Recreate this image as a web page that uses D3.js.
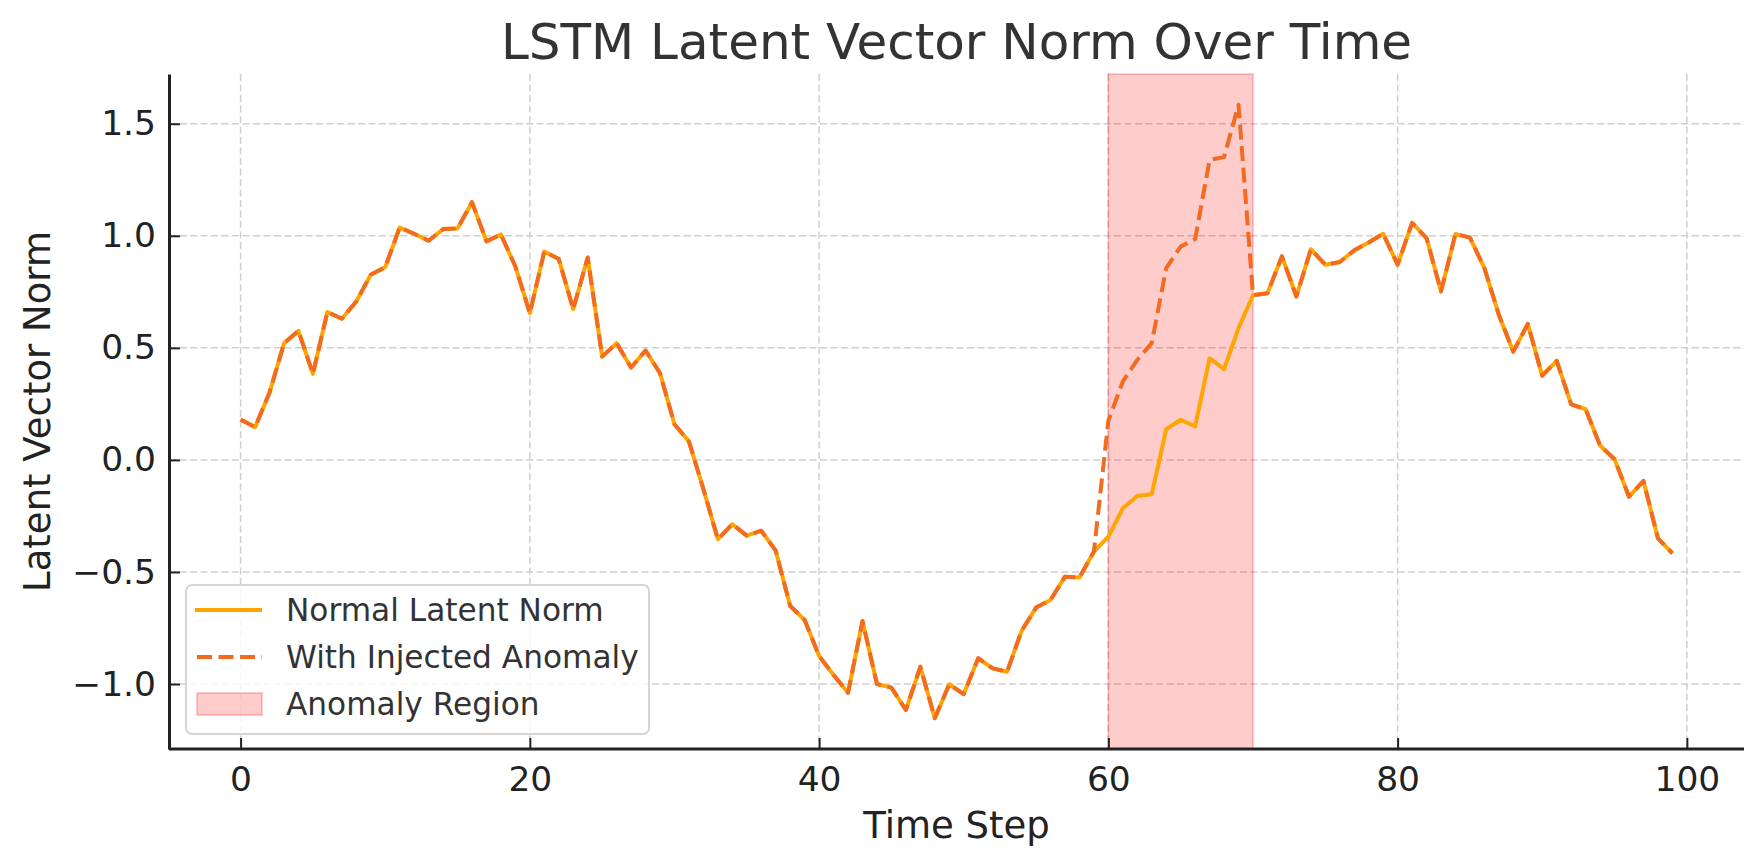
<!DOCTYPE html>
<html>
<head>
<meta charset="utf-8">
<script src="https://cdn.jsdelivr.net/npm/d3@7"></script>
<style>
  body { margin: 0; background: #fff; }
  svg { display: block; font-family: "DejaVu Sans", sans-serif; }
</style>
</head>
<body>
<div id="chart"></div>
<script>
// time steps 0..99
const steps = d3.range(0, 100);

// normal latent norm
const normalNorm = [
  0.18, 0.146, 0.30, 0.52, 0.576, 0.384, 0.66, 0.63, 0.707, 0.826,
  0.86, 1.037, 1.009, 0.978, 1.03, 1.033, 1.15, 0.975, 1.006, 0.863,
  0.655, 0.93, 0.896, 0.673, 0.903, 0.461, 0.521, 0.412, 0.488, 0.387,
  0.159, 0.082, -0.13, -0.354, -0.287, -0.338, -0.316, -0.405, -0.652, -0.714,
  -0.875, -0.96, -1.039, -0.719, -1.0, -1.016, -1.116, -0.923, -1.153, -1.001,
  -1.045, -0.885, -0.93, -0.945, -0.763, -0.659, -0.625, -0.521, -0.525, -0.409,
  -0.342, -0.216, -0.161, -0.153, 0.137, 0.179, 0.149, 0.454, 0.405, 0.588,
  0.735, 0.744, 0.908, 0.729, 0.94, 0.871, 0.883, 0.935, 0.97, 1.009,
  0.871, 1.058, 0.99, 0.752, 1.008, 0.992, 0.856, 0.647, 0.483, 0.607,
  0.376, 0.442, 0.248, 0.226, 0.064, 0.003, -0.164, -0.094, -0.35, -0.417
];

// values of the injected series inside the anomaly window
const anomalySteps = [60, 61, 62, 63, 64, 65, 66, 67, 68, 69];
const anomalyNorm = [0.175, 0.35, 0.446, 0.521, 0.856, 0.952, 0.985, 1.339, 1.351, 1.585];

const anomalyRegion = [60, 70];

const xTicks = [0, 20, 40, 60, 80, 100];
const yTicks = [-1.0, -0.5, 0.0, 0.5, 1.0, 1.5];

const legendLabels = ["Normal Latent Norm", "With Injected Anomaly", "Anomaly Region"];

// build the two series
const normalData = steps.map((s, i) => ({ t: s, v: normalNorm[i] }));
const injectedData = normalData.map(d => {
  const k = anomalySteps.indexOf(d.t);
  return { t: d.t, v: k >= 0 ? anomalyNorm[k] : d.v };
});

///////////////////////////// Create SVG
const W = 1764, H = 865;
const margin = { top: 74, right: 20, bottom: 116, left: 169 };
const width = W - margin.left - margin.right;
const height = H - margin.top - margin.bottom;

const svg = d3.select("#chart").append("svg")
  .attr("width", W)
  .attr("height", H);

const chart = svg.append("g")
  .attr("transform", "translate(" + margin.left + "," + margin.top + ")");

///////////////////////////// Scales (matplotlib-like 5% padding)
const xExt = d3.extent(steps);
const xPad = (xExt[1] - xExt[0]) * 0.05;
const x = d3.scaleLinear()
  .domain([xExt[0] - xPad, xExt[1] + xPad])
  .range([0, width]);

const allVals = normalNorm.concat(anomalyNorm);
const yExt = d3.extent(allVals);
const yPad = (yExt[1] - yExt[0]) * 0.05;
const y = d3.scaleLinear()
  .domain([yExt[0] - yPad, yExt[1] + yPad])
  .range([height, 0]);

///////////////////////////// Grid
chart.append("g")
  .selectAll("line")
  .data(xTicks)
  .join("line")
  .attr("x1", d => x(d)).attr("x2", d => x(d))
  .attr("y1", 0).attr("y2", height)
  .attr("stroke", "#cfcfcf")
  .attr("stroke-width", 1.5)
  .attr("stroke-dasharray", "7,3.5");

chart.append("g")
  .selectAll("line")
  .data(yTicks)
  .join("line")
  .attr("x1", 0).attr("x2", width)
  .attr("y1", d => y(d)).attr("y2", d => y(d))
  .attr("stroke", "#cfcfcf")
  .attr("stroke-width", 1.5)
  .attr("stroke-dasharray", "7,3.5");

///////////////////////////// Anomaly band
chart.append("rect")
  .attr("x", x(anomalyRegion[0]))
  .attr("y", 0)
  .attr("width", x(anomalyRegion[1]) - x(anomalyRegion[0]))
  .attr("height", height)
  .attr("fill", "rgba(255,0,0,0.2)")
  .attr("stroke", "rgba(255,0,0,0.2)")
  .attr("stroke-width", 2);

///////////////////////////// Lines
const line = d3.line()
  .x(d => x(d.t))
  .y(d => y(d.v));

chart.append("path")
  .datum(normalData)
  .attr("fill", "none")
  .attr("stroke", "#ffa500")
  .attr("stroke-width", 4)
  .attr("stroke-linejoin", "round")
  .attr("d", line);

chart.append("path")
  .datum(injectedData)
  .attr("fill", "none")
  .attr("stroke", "#f26b21")
  .attr("stroke-width", 4)
  .attr("stroke-dasharray", "15,6.5")
  .attr("stroke-linejoin", "round")
  .attr("d", line);

///////////////////////////// Axes
const xAxis = chart.append("g")
  .attr("transform", "translate(0," + height + ")")
  .call(d3.axisBottom(x).tickValues(xTicks).tickSizeInner(-11).tickSizeOuter(0).tickPadding(18));

const yAxis = chart.append("g")
  .call(d3.axisLeft(y).tickValues(yTicks).tickSizeInner(-11).tickSizeOuter(0).tickPadding(13)
    .tickFormat(d => d3.format(".1f")(d).replace("-", "\u2212")));

[xAxis, yAxis].forEach(ax => {
  ax.select(".domain").attr("stroke", "#222").attr("stroke-width", 3);
  ax.selectAll(".tick line").attr("stroke", "#222").attr("stroke-width", 2);
  ax.selectAll(".tick text")
    .attr("fill", "#222")
    .style("font-size", "34.5px")
    .style("font-family", "DejaVu Sans, sans-serif");
});
xAxis.select(".domain").attr("d", "M0,0H" + width);

///////////////////////////// Labels
svg.append("text")
  .attr("x", margin.left + width / 2)
  .attr("y", 59)
  .attr("text-anchor", "middle")
  .attr("fill", "#333")
  .style("font-size", "50px")
  .text("LSTM Latent Vector Norm Over Time");

svg.append("text")
  .attr("x", margin.left + width / 2)
  .attr("y", 838)
  .attr("text-anchor", "middle")
  .attr("fill", "#222")
  .style("font-size", "37px")
  .text("Time Step");

svg.append("text")
  .attr("transform", "translate(50," + (margin.top + height / 2) + ") rotate(-90)")
  .attr("text-anchor", "middle")
  .attr("fill", "#222")
  .style("font-size", "37px")
  .text("Latent Vector Norm");

///////////////////////////// Legend
const legend = svg.append("g");

legend.append("rect")
  .attr("x", 186).attr("y", 585)
  .attr("width", 463).attr("height", 149)
  .attr("rx", 6)
  .attr("fill", "rgba(255,255,255,0.8)")
  .attr("stroke", "#d6d6d6")
  .attr("stroke-width", 2);

const rowY = [610, 657, 704];

legend.append("line")
  .attr("x1", 195).attr("x2", 262)
  .attr("y1", rowY[0]).attr("y2", rowY[0])
  .attr("stroke", "#ffa500").attr("stroke-width", 4);

legend.append("line")
  .attr("x1", 197).attr("x2", 262)
  .attr("y1", rowY[1]).attr("y2", rowY[1])
  .attr("stroke", "#f26b21").attr("stroke-width", 4)
  .attr("stroke-dasharray", "15,6.5");

legend.append("rect")
  .attr("x", 197).attr("y", rowY[2] - 11)
  .attr("width", 65).attr("height", 22)
  .attr("fill", "rgba(255,0,0,0.2)")
  .attr("stroke", "rgba(255,0,0,0.2)")
  .attr("stroke-width", 2);

legend.selectAll("text.lbl")
  .data(legendLabels)
  .join("text")
  .attr("class", "lbl")
  .attr("x", 286)
  .attr("y", (d, i) => rowY[i])
  .attr("dy", "0.36em")
  .attr("fill", "#333")
  .style("font-size", "31.2px")
  .text(d => d);
</script>
</body>
</html>
